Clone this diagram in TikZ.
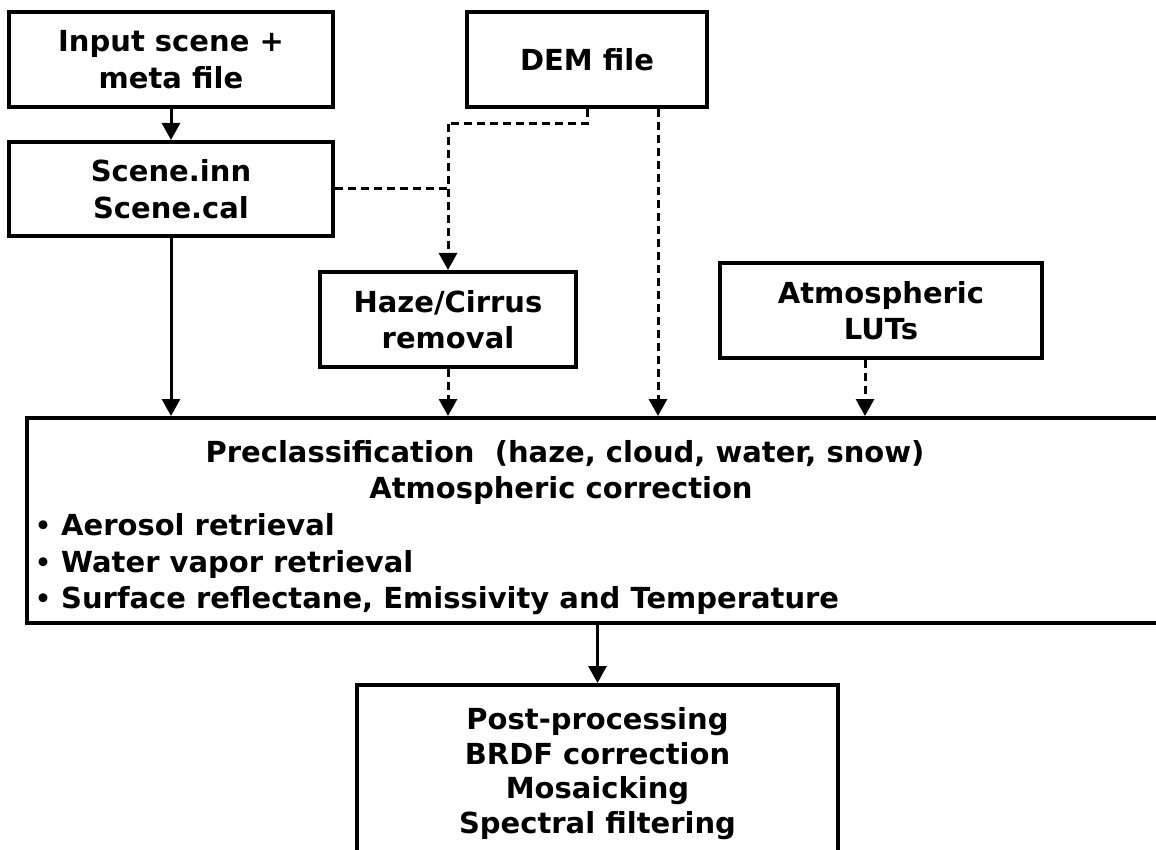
\documentclass[tikz,border=0pt]{standalone}
\usepackage{fontspec}
\setmainfont{DejaVu Sans}
\usetikzlibrary{arrows.meta}

\begin{document}
\begin{tikzpicture}[x=1pt,y=-1pt,
  box/.style={draw,line width=4pt,align=center,inner sep=0pt,
    font=\fontsize{29}{36.5}\selectfont\bfseries},
  txt/.style={inner sep=0pt,font=\fontsize{29}{36.5}\selectfont\bfseries},
  link/.style={line width=3pt,-{Triangle[width=18pt,length=17pt]}},
  dotlink/.style={link,dash pattern=on 8pt off 5pt}]
\useasboundingbox (0,0) rectangle (1156,850);

\node[box,minimum width=324pt,minimum height=95pt] (input) at (171,59.5) {Input scene +\\meta file};
\node[box,minimum width=324pt,minimum height=94pt] (scene) at (171,189) {Scene.inn\\Scene.cal};
\node[box,minimum width=240pt,minimum height=95pt] (dem) at (587,59.5) {DEM file};
\node[box,minimum width=256pt,minimum height=95pt] (haze) at (448,319.5) {Haze/Cirrus\\removal};
\node[box,minimum width=322pt,minimum height=95pt] (luts) at (881,310.5) {Atmospheric\\LUTs};

% big box, runs past the right edge
\node[box,minimum width=1150pt,minimum height=205pt] (atm) at (602,520.5) {};
\newcommand{\dotitem}{\makebox[26pt][l]{\raisebox{1pt}{\fontsize{25}{25}\selectfont\textbullet}}}
\node[txt,anchor=base] (pre) at (565,462) {Preclassification~ (haze, cloud, water, snow)};
\node[txt,anchor=base] (corr) at (561,498) {Atmospheric correction};
\node[txt,anchor=base west] (aero) at (35,535) {\dotitem Aerosol retrieval};
\node[txt,anchor=base west] (wv) at (35,572) {\dotitem Water vapor retrieval};
\node[txt,anchor=base west] (surf) at (35,608) {\dotitem Surface reflectane, Emissivity and Temperature};

\node[box,minimum width=481pt,minimum height=177pt,
  font=\fontsize{29}{34.5}\selectfont\bfseries] (post) at (597.5,773.5)
  {Post-processing\\BRDF correction\\Mosaicking\\Spectral filtering};

\coordinate (bend) at (448,124);

\draw[link] (input) -- (scene);
\draw[link] (scene.south) -- (scene.south |- atm.north);
\draw[dotlink,-] (dem.south) |- (bend);
\draw[dotlink] (bend) -- (haze.north);
\draw[dotlink,-] (scene.east) -- (scene.east -| bend);
\draw[dotlink] ([xshift=71pt]dem.south) -- ([xshift=71pt]dem.south |- atm.north);
\draw[dotlink] (haze.south) -- (haze.south |- atm.north);
\draw[dotlink] ([xshift=-16pt]luts.south) -- ([xshift=-16pt]luts.south |- atm.north);
\draw[link] (post.north |- atm.south) -- (post.north);
\end{tikzpicture}
\end{document}
